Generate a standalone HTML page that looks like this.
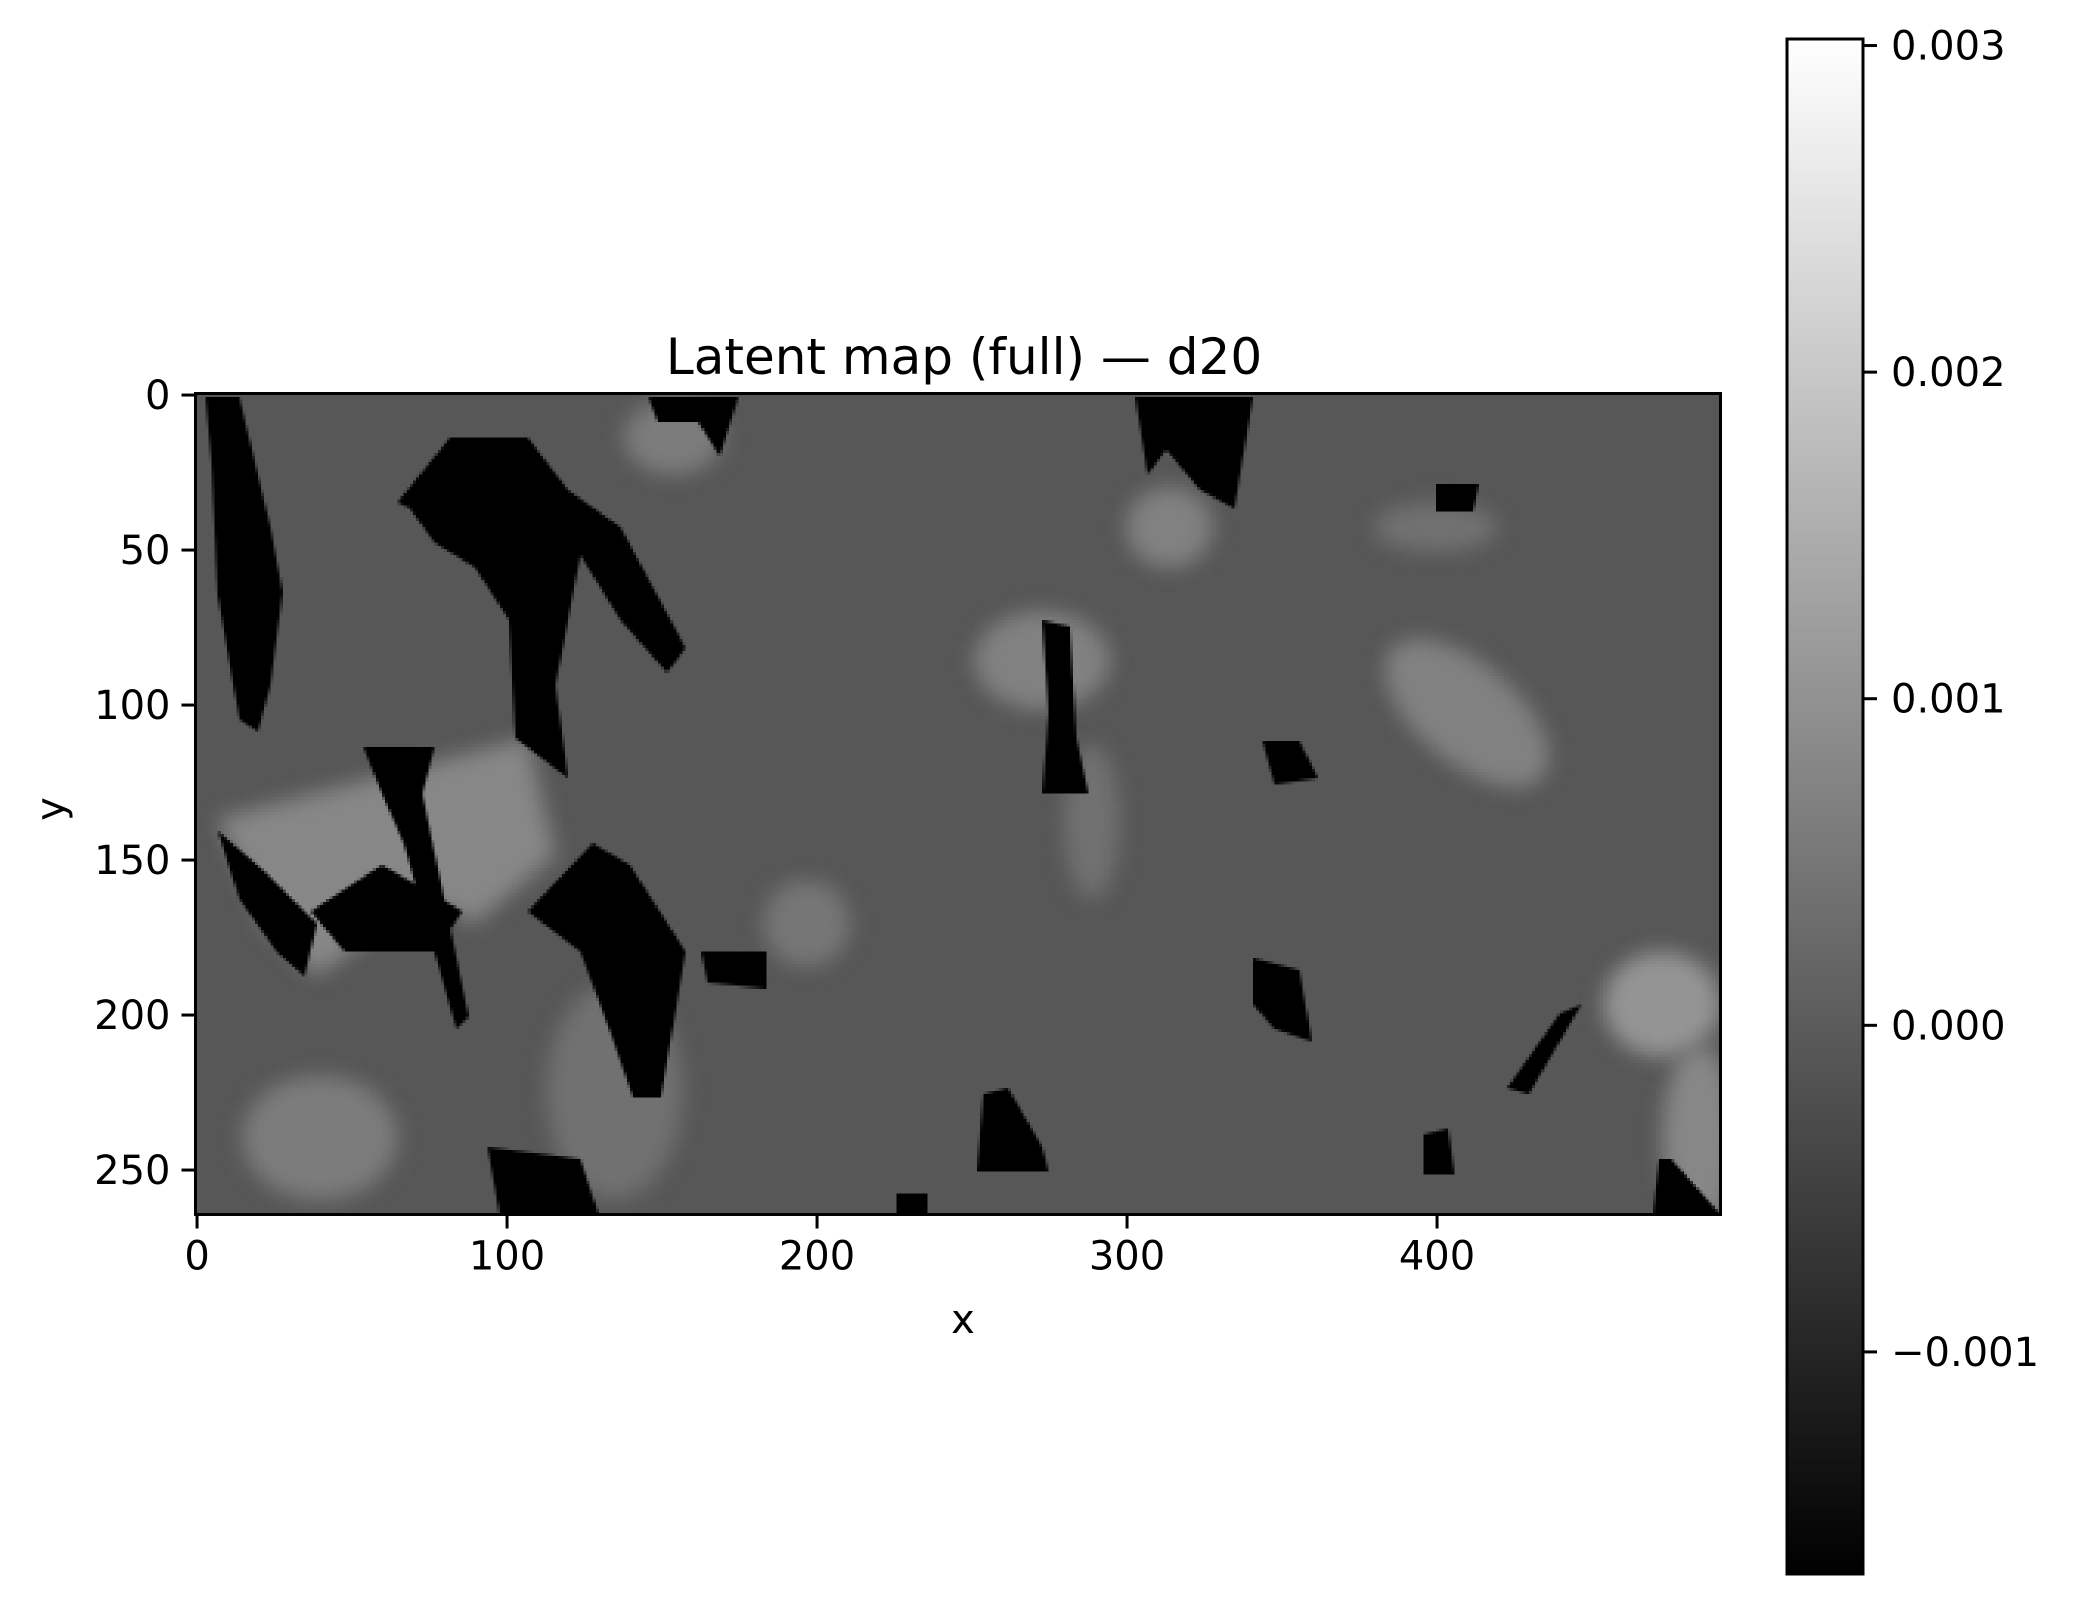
<!DOCTYPE html>
<html><head><meta charset="utf-8"><style>
html,body{margin:0;padding:0;background:#fff;}
#fig{position:relative;width:2075px;height:1602px;overflow:hidden;font-family:"DejaVu Sans","Liberation Sans",sans-serif;}
#heat{position:absolute;left:195.5px;top:393.5px;width:1525px;height:821px;image-rendering:pixelated;}
svg{position:absolute;left:0;top:0;}
text{font-family:"DejaVu Sans","Liberation Sans",sans-serif;fill:#000;}
</style></head><body>
<div id="fig">
<canvas id="heat" width="492" height="265"></canvas>
<svg id="ov" width="2075" height="1602">
<defs><linearGradient id="cg" x1="0" y1="1" x2="0" y2="0"><stop offset="0" stop-color="#000"/><stop offset="1" stop-color="#fff"/></linearGradient></defs>
<text x="964" y="374" font-size="50" text-anchor="middle">Latent map (full) — d20</text>
<text x="963" y="1333" font-size="40" text-anchor="middle">x</text>
<text transform="translate(64,809) rotate(-90)" font-size="40" text-anchor="middle">y</text>
<rect x="195.5" y="393.5" width="1525" height="821" fill="none" stroke="#000" stroke-width="3"/>
<g id="xt"></g>
<g id="yt"></g>
<rect x="1787" y="39" width="76" height="1535" fill="url(#cg)" stroke="#000" stroke-width="3"/>
<g id="ct"></g>
</svg>
</div>
<script>
const xTicks=[0,100,200,300,400];
const yTicks=[0,50,100,150,200,250];
const cbTicks=[0.003,0.002,0.001,0.000,-0.001];
const cbLabels=["0.003","0.002","0.001","0.000","\u22120.001"];
const vmin=-0.00168, vmax=0.00302;
const baseValue=-0.00008;
const darkRegions=[
[3,1,14,1,24,43,28,64,24,94,20,109,14,105,7,65,5,22],
[65,35,82,14,107,14,120,31,137,43,158,82,152,90,137,73,124,52,116,94,120,124,103,111,101,73,90,56,77,48,69,37],
[146,1,175,1,169,20,162,9,149,9],
[107,167,128,145,140,152,158,180,150,227,141,227,133,204,124,180],
[94,243,124,247,130,265,98,265],
[7,141,22,154,39,171,35,188,26,180,14,163],
[54,114,77,114,73,129,88,201,84,205,67,145,60,129],
[37,167,60,152,86,167,77,180,48,180],
[303,1,341,1,335,37,324,31,313,18,307,26],
[273,73,282,75,284,111,288,129,273,129,275,103],
[341,182,356,186,360,209,348,205,341,197],
[344,112,356,112,362,124,348,126],
[400,29,414,29,412,38,400,38],
[254,226,262,224,273,243,275,251,252,251],
[396,239,404,237,406,252,396,252],
[440,200,447,197,430,226,423,224],
[163,180,184,180,184,192,165,190],
[472,247,476,247,492,265,470,265],
[226,258,236,258,236,265,226,265]
];
const lightBlobs=[
[473,197,19,17,0,0.00105],
[410,103,32,16,40,0.0007],
[314,43,14,13,0,0.0007],
[273,86,22,16,0,0.0007],
[154,14,16,12,0,0.0006],
[197,171,14,14,0,0.0005],
[289,138,9,25,0,0.0004],
[400,43,20,8,0,0.0004],
[485,240,12,30,0,0.0008],
[40,240,25,20,0,0.0006],
[135,225,22,35,0,0.0004]
];
const lightPolys=[
[[7,137,107,111,116,149,90,171,73,163,39,188,22,171],0.0008]
];
function gray(v){let t=(v-vmin)/(vmax-vmin);t=Math.max(0,Math.min(1,t));const g=Math.round(t*255);return `rgb(${g},${g},${g})`;}
const cv=document.getElementById('heat');const ctx=cv.getContext('2d');
ctx.fillStyle=gray(baseValue);ctx.fillRect(0,0,cv.width,cv.height);
ctx.filter='blur(3px)';
lightBlobs.forEach(b=>{ctx.fillStyle=gray(b[5]);ctx.beginPath();ctx.ellipse(b[0],b[1],b[2],b[3],b[4]*Math.PI/180,0,2*Math.PI);ctx.fill();});
lightPolys.forEach(p=>{ctx.fillStyle=gray(p[1]);ctx.beginPath();const q=p[0];ctx.moveTo(q[0],q[1]);for(let i=2;i<q.length;i+=2)ctx.lineTo(q[i],q[i+1]);ctx.closePath();ctx.fill();});
ctx.filter='none';
ctx.fillStyle=gray(vmin);
darkRegions.forEach(q=>{ctx.beginPath();ctx.moveTo(q[0],q[1]);for(let i=2;i<q.length;i+=2)ctx.lineTo(q[i],q[i+1]);ctx.closePath();ctx.fill();});
const NS='http://www.w3.org/2000/svg';
const pxSize=3.1, plotLeft=195.5, plotTop=393.5, plotBottom=1214.5;
function xs(v){return plotLeft+(v+0.5)*pxSize;}
function ys(v){return plotTop+(v+0.5)*pxSize;}
function cys(v){return 39+(vmax-v)/(vmax-vmin)*1535;}
function mk(tag,attrs,parent,txt){const e=document.createElementNS(NS,tag);for(const k in attrs)e.setAttribute(k,attrs[k]);if(txt!==undefined)e.textContent=txt;parent.appendChild(e);return e;}
const xt=document.getElementById('xt'),yt=document.getElementById('yt'),ct=document.getElementById('ct');
xTicks.forEach(v=>{const x=xs(v);
 const l=mk('line',{x1:x,x2:x,y1:plotBottom,y2:plotBottom+14,stroke:'#000','stroke-width':3},xt);
 
 
 const t=mk('text',{x:x,y:plotBottom+55,'font-size':40,'text-anchor':'middle'},xt,String(v));
 
 });
yTicks.forEach(v=>{const y=ys(v);
 const l=mk('line',{x1:plotLeft-14,x2:plotLeft,y1:y,y2:y,stroke:'#000','stroke-width':3},yt);
 
 
 const t=mk('text',{x:plotLeft-25,y:y+14,'font-size':40,'text-anchor':'end'},yt,String(v));
 
 });
cbTicks.forEach((v,i)=>{const y=cys(v);
 const l=mk('line',{x1:1863,x2:1877,y1:y,y2:y,stroke:'#000','stroke-width':3},ct);
 
 
 const t=mk('text',{x:1891,y:y+14,'font-size':40},ct,cbLabels[i]);
 
 });
</script>
</body></html>
